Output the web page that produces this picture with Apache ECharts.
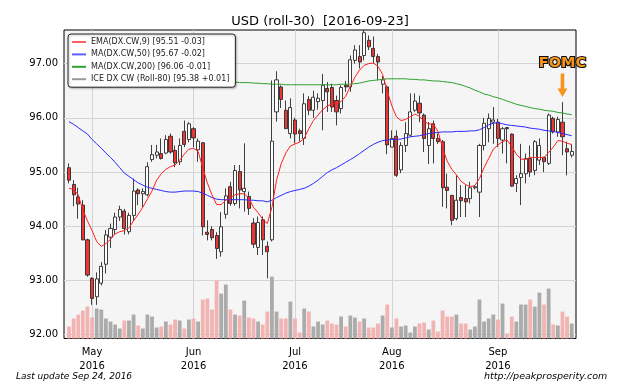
<!DOCTYPE html>
<html>
<head>
<meta charset="utf-8">
<script src="https://cdn.jsdelivr.net/npm/echarts@6/dist/echarts.min.js"></script>
<style>
html,body{margin:0;padding:0;background:#fff;}
#chart{width:640px;height:384px;}
</style>
</head>
<body>
<div id="chart"></div>
<script>
// ---------------- DATA ----------------
const dates = [
'2016-04-25','2016-04-26','2016-04-27','2016-04-28','2016-04-29',
'2016-05-02','2016-05-03','2016-05-04','2016-05-05','2016-05-06',
'2016-05-09','2016-05-10','2016-05-11','2016-05-12','2016-05-13',
'2016-05-16','2016-05-17','2016-05-18','2016-05-19','2016-05-20',
'2016-05-23','2016-05-24','2016-05-25','2016-05-26','2016-05-27',
'2016-05-30','2016-05-31',
'2016-06-01','2016-06-02','2016-06-03',
'2016-06-06','2016-06-07','2016-06-08','2016-06-09','2016-06-10',
'2016-06-13','2016-06-14','2016-06-15','2016-06-16','2016-06-17',
'2016-06-20','2016-06-21','2016-06-22','2016-06-23','2016-06-24',
'2016-06-27','2016-06-28','2016-06-29','2016-06-30',
'2016-07-01',
'2016-07-04','2016-07-05','2016-07-06','2016-07-07','2016-07-08',
'2016-07-11','2016-07-12','2016-07-13','2016-07-14','2016-07-15',
'2016-07-18','2016-07-19','2016-07-20','2016-07-21','2016-07-22',
'2016-07-25','2016-07-26','2016-07-27','2016-07-28','2016-07-29',
'2016-08-01','2016-08-02','2016-08-03','2016-08-04','2016-08-05',
'2016-08-08','2016-08-09','2016-08-10','2016-08-11','2016-08-12',
'2016-08-15','2016-08-16','2016-08-17','2016-08-18','2016-08-19',
'2016-08-22','2016-08-23','2016-08-24','2016-08-25','2016-08-26',
'2016-08-29','2016-08-30','2016-08-31',
'2016-09-01','2016-09-02',
'2016-09-05','2016-09-06','2016-09-07','2016-09-08','2016-09-09',
'2016-09-12','2016-09-13','2016-09-14','2016-09-15','2016-09-16',
'2016-09-19','2016-09-20','2016-09-21','2016-09-22','2016-09-23'
];

const opens = [
95.08,94.77,94.54,94.39,93.75,93.04,92.70,92.95,93.30,93.80,
93.94,94.17,94.28,93.90,94.20,94.67,94.60,94.58,95.23,95.31,
95.34,95.35,95.66,95.40,95.19,95.75,95.60,95.80,95.41,95.54,
93.89,93.94,93.83,93.53,94.22,94.73,94.42,95.01,94.64,94.55,
94.06,93.61,94.12,93.63,93.75,96.11,96.57,96.14,95.71,95.96,
95.76,95.62,96.34,96.14,96.30,96.32,96.54,96.56,96.32,96.17,
96.60,96.57,97.06,97.13,97.15,97.43,97.28,97.13,96.62,96.57,
95.46,95.66,95.04,95.49,95.68,96.14,96.27,96.05,95.49,95.89,
95.62,95.56,94.72,94.57,94.14,94.53,94.51,94.51,94.71,94.63,
95.49,95.80,95.92,95.92,95.59,95.82,95.70,94.79,94.90,94.97,
95.25,95.03,95.22,95.27,95.16,95.99,95.74,95.92,95.43,95.31
];
const closes = [
94.85,94.58,94.41,93.75,93.10,92.67,93.03,93.26,93.84,93.96,
94.17,94.31,93.96,94.20,94.65,94.60,94.64,95.10,95.32,95.37,
95.25,95.60,95.37,95.17,95.49,95.51,95.89,95.63,95.57,93.99,
93.85,93.79,93.59,93.99,94.56,94.42,95.03,94.67,94.70,94.33,
93.67,94.07,93.75,93.53,95.57,96.70,96.34,95.80,96.19,95.70,
95.71,96.26,96.14,96.38,96.36,96.60,96.48,96.20,96.11,96.56,
96.57,97.07,97.25,97.03,97.57,97.31,97.13,97.03,96.70,95.50,
95.62,94.94,95.49,95.71,96.11,96.31,96.09,95.62,95.80,95.62,
95.56,94.71,94.66,94.11,94.48,94.47,94.45,94.71,94.73,95.49,
95.90,95.99,95.96,95.62,95.80,95.80,94.74,94.88,94.97,95.25,
95.00,95.56,95.49,95.19,96.05,95.74,95.97,95.65,95.37,95.38
];
const lows = [
94.79,94.37,94.14,93.74,93.07,92.55,92.55,92.91,93.13,93.60,
93.85,94.10,93.85,93.85,94.10,94.39,94.35,94.55,95.19,95.25,
95.23,95.33,95.34,95.09,95.13,95.46,95.55,95.46,95.19,93.83,
93.74,93.74,93.40,93.44,94.14,94.38,94.38,94.33,94.27,94.21,
93.60,93.47,93.47,93.04,93.72,95.93,96.18,95.80,95.62,95.53,
95.56,95.50,96.05,96.00,96.15,95.77,96.11,96.11,95.86,96.08,
96.48,96.48,97.00,96.91,97.06,97.25,97.00,96.69,96.45,95.33,
95.46,94.91,94.98,95.37,95.65,96.11,95.92,95.37,95.15,95.16,
95.52,94.36,94.33,94.02,94.11,94.17,94.17,94.42,94.68,94.17,
95.40,95.55,95.52,95.46,95.34,95.16,94.73,94.63,94.39,94.79,
94.91,94.94,95.13,95.00,95.13,95.71,95.65,95.31,94.94,95.27
];
const highs = [
95.16,94.85,94.71,94.48,93.77,93.06,93.15,93.34,93.93,94.05,
94.25,94.38,94.32,94.25,94.88,94.70,94.70,95.18,95.50,95.50,
95.62,95.68,95.71,95.49,95.62,95.95,95.92,95.83,95.62,95.55,
94.11,94.00,93.89,94.26,94.70,94.82,95.13,95.13,95.53,94.64,
94.15,94.18,94.18,93.72,96.69,96.86,96.60,96.32,96.36,96.00,
95.80,96.45,96.40,96.50,96.45,96.81,96.66,96.63,96.41,96.60,
96.68,97.15,97.34,97.34,97.62,97.52,97.50,97.18,96.77,96.60,
95.77,95.77,95.55,95.92,96.45,96.45,96.41,96.08,95.92,95.95,
95.71,95.59,94.97,94.57,94.94,94.76,94.76,94.82,94.76,95.52,
96.00,96.08,96.20,95.98,95.83,95.83,95.71,94.94,95.52,95.34,
95.49,95.59,95.62,95.28,96.08,96.02,96.02,96.29,95.56,95.51
];
// volume, thousand contracts (approx.)
const volumes = [
12,20,24,28,32,21,30,29,20,17,
14,10,18,18,24,13,10,24,22,11,
12,17,14,19,18,10,19,20,17,39,
40,29,58,45,54,29,24,23,38,21,
20,17,14,27,62,27,20,20,37,20,
6,30,27,12,17,14,18,15,14,22,
12,23,21,17,20,11,11,15,23,34,
11,20,12,13,6,12,15,16,9,18,
7,28,22,22,24,15,15,9,12,39,
17,20,24,19,35,5,22,17,34,34,
39,32,46,34,50,14,13,27,22,15
];
const ema9 = [
94.70,94.68,94.58,94.30,94.10,93.92,93.72,93.63,93.68,93.76,
93.86,93.90,93.92,93.97,94.10,94.22,94.35,94.50,94.65,94.85,
94.97,95.05,95.10,95.13,95.22,95.33,95.42,95.44,95.38,95.08,
94.80,94.58,94.40,94.40,94.48,94.53,94.58,94.60,94.60,94.52,
94.35,94.25,94.13,94.05,94.35,94.85,95.15,95.35,95.48,95.52,
95.55,95.62,95.80,95.95,96.05,96.15,96.22,96.25,96.27,96.30,
96.40,96.58,96.75,96.88,96.97,97.00,97.01,96.95,96.80,96.50,
96.22,96.02,95.95,95.97,96.02,96.07,96.03,95.93,95.89,95.88,
95.75,95.45,95.20,95.05,94.95,94.83,94.77,94.73,94.75,94.88,
95.08,95.25,95.42,95.50,95.56,95.59,95.47,95.33,95.24,95.23,
95.27,95.27,95.27,95.27,95.36,95.46,95.58,95.57,95.53,95.51
];
const ma50 = [
95.93,95.88,95.82,95.76,95.70,95.60,95.52,95.44,95.35,95.27,
95.18,95.08,94.98,94.92,94.86,94.80,94.76,94.72,94.70,94.68,
94.66,94.64,94.63,94.63,94.64,94.65,94.65,94.65,94.64,94.61,
94.57,94.53,94.50,94.49,94.49,94.49,94.49,94.49,94.49,94.48,
94.48,94.47,94.47,94.45,94.48,94.53,94.57,94.61,94.64,94.66,
94.68,94.70,94.74,94.79,94.85,94.92,94.99,95.04,95.08,95.13,
95.18,95.23,95.28,95.34,95.40,95.46,95.51,95.55,95.58,95.59,
95.60,95.60,95.61,95.63,95.65,95.66,95.67,95.69,95.71,95.72,
95.73,95.74,95.74,95.74,95.75,95.75,95.75,95.76,95.76,95.78,
95.82,95.87,95.90,95.91,95.89,95.87,95.86,95.85,95.84,95.83,
95.81,95.80,95.79,95.77,95.76,95.75,95.73,95.71,95.69,95.67
];
const ma200 = [
96.85,96.84,96.83,96.82,96.81,96.80,96.79,96.78,96.77,96.76,
96.76,96.75,96.74,96.74,96.73,96.72,96.72,96.71,96.71,96.70,
96.70,96.69,96.69,96.69,96.68,96.68,96.68,96.67,96.67,96.67,
96.67,96.66,96.66,96.66,96.66,96.66,96.66,96.65,96.65,96.65,
96.64,96.64,96.63,96.63,96.62,96.62,96.62,96.61,96.61,96.61,
96.61,96.61,96.61,96.61,96.61,96.61,96.61,96.61,96.61,96.62,
96.62,96.62,96.63,96.64,96.66,96.68,96.69,96.70,96.71,96.72,
96.72,96.72,96.72,96.72,96.71,96.71,96.70,96.70,96.69,96.68,
96.68,96.67,96.66,96.65,96.63,96.61,96.58,96.55,96.51,96.48,
96.44,96.42,96.39,96.37,96.34,96.31,96.28,96.25,96.23,96.21,
96.19,96.17,96.16,96.14,96.13,96.12,96.10,96.09,96.07,96.06
];
const yTicks = [92, 93, 94, 95, 96, 97];
const monthLabels = {
  '2016-05-02': 'May\n2016',
  '2016-06-01': 'Jun\n2016',
  '2016-07-01': 'Jul\n2016',
  '2016-08-01': 'Aug\n2016',
  '2016-09-01': 'Sep\n2016'
};
const seriesNames = {
  ema: 'EMA(DX.CW,9) [95.51 -0.03]',
  ma50: 'MA(DX.CW,50) [95.67 -0.02]',
  ma200: 'MA(DX.CW,200) [96.06 -0.01]',
  price: 'ICE DX CW (Roll-80) [95.38 +0.01]'
};
const titleText = 'USD (roll-30)  [2016-09-23]';
const footerLeft = 'Last update Sep 24, 2016';
const footerRight = 'http://peakprosperity.com';
const eventLabel = 'FOMC';
const eventDate = '2016-09-21';
const eventLevel = 96.60;

// ---------------- CHART ----------------
const FONT = 'DejaVu Sans';
const Y_MIN = 91.93, Y_MAX = 97.62;
const candleData = dates.map((d, i) => [opens[i], closes[i], lows[i], highs[i]]);
const volData = volumes.map((v, i) => ({
  value: v,
  itemStyle: { color: closes[i] >= opens[i] ? '#ababab' : '#f2b3b3' }
}));
const isMonth = (idx, val) => monthLabels[val] !== undefined;

const chart = echarts.init(document.getElementById('chart'), null, { renderer: 'canvas' });
chart.setOption({
  animation: false,
  backgroundColor: '#ffffff',
  title: [
    { text: titleText, left: 'center', top: 10,
      textStyle: { fontFamily: FONT, fontSize: 13, fontWeight: 'normal', color: '#000' } },
    { text: footerLeft, left: 11, top: 367,
      textStyle: { fontFamily: FONT, fontSize: 9, fontStyle: 'italic', fontWeight: 'normal', color: '#000' } },
    { text: footerRight, left: 479, top: 367,
      textStyle: { fontFamily: FONT, fontSize: 9.5, fontStyle: 'italic', fontWeight: 'normal', color: '#000' } }
  ],
  legend: {
    left: 68, top: 34, orient: 'vertical', z: 20, zlevel: 0,
    backgroundColor: '#ffffff', borderColor: '#222', borderWidth: 1, borderRadius: 3,
    shadowColor: 'rgba(0,0,0,0.25)', shadowBlur: 2, shadowOffsetX: 1, shadowOffsetY: 1,
    padding: [4, 6, 4, 4], itemGap: 4.4, itemWidth: 14, itemHeight: 2,
    selectedMode: false,
    textStyle: { fontFamily: FONT, fontSize: 8, color: '#222' },
    data: [
      { name: seriesNames.ema, icon: 'rect', itemStyle: { color: '#ff6060' } },
      { name: seriesNames.ma50, icon: 'rect', itemStyle: { color: '#6060ff' } },
      { name: seriesNames.ma200, icon: 'rect', itemStyle: { color: '#30a030' } },
      { name: seriesNames.price, icon: 'rect', itemStyle: { color: '#999999', borderWidth: 0 } }
    ]
  },
  grid: [
    { left: 64, top: 30, width: 512, height: 308.5, show: true,
      backgroundColor: '#f5f5f5', borderColor: '#000', borderWidth: 1 },
    { left: 66.7, top: 30, width: 507.3, height: 308.5 }
  ],
  xAxis: [
    { type: 'value', gridIndex: 0, min: 0, max: 1, show: false },
    { type: 'category', gridIndex: 1, data: dates, boundaryGap: true,
      axisLine: { show: false }, axisTick: { show: false },
      axisLabel: { interval: isMonth, formatter: v => monthLabels[v] || '',
        fontFamily: FONT, fontSize: 10, color: '#000', margin: 7, lineHeight: 14 },
      splitLine: { show: true, interval: isMonth, alignWithLabel: true,
        lineStyle: { color: '#d4d4d4', width: 1 } } }
  ],
  yAxis: [
    { type: 'value', gridIndex: 0, min: Y_MIN, max: Y_MAX,
      axisLine: { show: false },
      axisTick: { show: false, customValues: yTicks },
      axisLabel: { customValues: yTicks, formatter: v => v.toFixed(2),
        fontFamily: FONT, fontSize: 10, color: '#000', margin: 6 },
      splitLine: { show: true, lineStyle: { color: '#d4d4d4', width: 1 } } },
    { type: 'value', gridIndex: 1, min: Y_MIN, max: Y_MAX, show: false, splitLine: { show: false } },
    { type: 'value', gridIndex: 1, min: 0, max: 309, show: false, splitLine: { show: false } }
  ],
  series: [
    { type: 'bar', name: 'volume', xAxisIndex: 1, yAxisIndex: 2, data: volData,
      barWidth: 3.8, z: 1, silent: true },
    { type: 'candlestick', name: seriesNames.price, xAxisIndex: 1, yAxisIndex: 1,
      data: candleData, barWidth: 3.6, z: 3,
      itemStyle: { color: '#ffffff', color0: '#ec3535',
        borderColor: '#2a2a2a', borderColor0: '#2a2a2a', borderWidth: 0.9 },
      markPoint: {
        silent: true,
        symbol: 'path://M3.2,0 L6.8,0 L6.8,15 L10,15 L5,23.4 L0,15 L3.2,15 Z',
        symbolSize: [10, 23.4],
        itemStyle: { color: '#f7941d' },
        label: { show: true, position: 'top', distance: 3, formatter: eventLabel,
          fontFamily: FONT, fontSize: 14.5, fontWeight: 'bold', color: '#f7941d',
          textBorderColor: '#111', textBorderWidth: 2.2 },
        data: [{ coord: [eventDate, eventLevel] }]
      } },
    { type: 'line', name: seriesNames.ma200, xAxisIndex: 1, yAxisIndex: 1, data: ma200,
      showSymbol: false, lineStyle: { color: '#2ca02c', width: 1 }, itemStyle: { color: '#2ca02c' }, z: 4 },
    { type: 'line', name: seriesNames.ma50, xAxisIndex: 1, yAxisIndex: 1, data: ma50,
      showSymbol: false, lineStyle: { color: '#2a2aff', width: 1 }, itemStyle: { color: '#2a2aff' }, z: 4 },
    { type: 'line', name: seriesNames.ema, xAxisIndex: 1, yAxisIndex: 1, data: ema9,
      showSymbol: false, lineStyle: { color: '#ff2020', width: 1 }, itemStyle: { color: '#ff2020' }, z: 4 }
  ]
});
</script>
</body>
</html>
